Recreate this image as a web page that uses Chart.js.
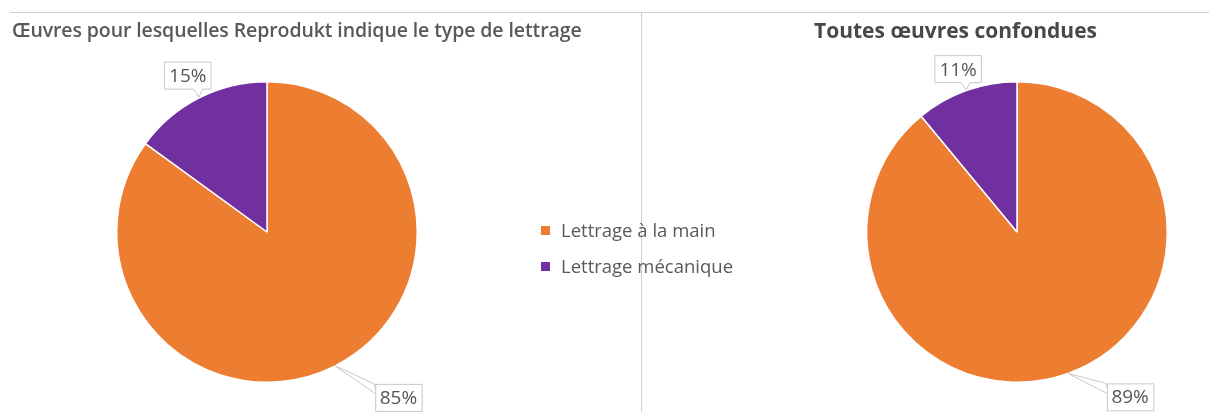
<!DOCTYPE html>
<html lang="fr">
<head>
<meta charset="utf-8">
<title>Type de lettrage</title>
<script src="https://cdn.jsdelivr.net/npm/chart.js@4.4.1/dist/chart.umd.min.js"></script>
<style>
  html, body { margin: 0; padding: 0; background: #ffffff; }
  #stage { position: relative; width: 1209px; height: 412px; overflow: hidden; font-family: "Open Sans", "Noto Sans", sans-serif; }
  .rule-h { position: absolute; left: 10px; top: 12px; width: 1199px; height: 0; border-top: 1.5px solid #d0d0d0; }
  .rule-v { position: absolute; left: 641px; top: 12px; width: 0; height: 400px; border-left: 1.5px solid #d0d0d0; }
  canvas { position: absolute; top: 0; }
  #pieLeft { left: 0; }
  #pieRight { left: 642px; }
  .title { position: absolute; color: #595959; white-space: nowrap; }
  #titleLeft { left: 12px; top: 16px; font-size: 19.5px; font-weight: 600; letter-spacing: -0.1px; }
  #titleRight { left: 672px; width: 567px; text-align: center; top: 16px; font-size: 21px; font-weight: 700; color: #484848; }
  #legend { position: absolute; left: 541px; top: 217px; font-size: 18.5px; color: #595959; }
  #legend div { height: 36px; line-height: 26px; white-space: nowrap; }
  #legend span.sw { display: inline-block; width: 9px; height: 9px; margin-right: 11px; vertical-align: 2px; }
</style>
</head>
<body>
<div id="stage">
  <div class="rule-h"></div>
  <div class="rule-v"></div>
  <canvas id="pieLeft" width="640" height="412"></canvas>
  <canvas id="pieRight" width="567" height="412"></canvas>
  <div class="title" id="titleLeft"></div>
  <div class="title" id="titleRight"></div>
  <div id="legend"></div>
</div>
<script>
// Categories and shares (%) for each pie
const categories = ['Lettrage à la main', 'Lettrage mécanique'];
const colors = ['#ED7D31', '#7030A0'];
const titleLeft = 'Œuvres pour lesquelles Reprodukt indique le type de lettrage';
const titleRight = 'Toutes œuvres confondues';
const valuesLeft = [85, 15];
const valuesRight = [89, 11];

document.getElementById('titleLeft').textContent = titleLeft;
document.getElementById('titleRight').textContent = titleRight;

// Legend shared by both pies
const legendBox = document.getElementById('legend');
categories.forEach((c, i) => {
  const row = document.createElement('div');
  const sw = document.createElement('span');
  sw.className = 'sw';
  sw.style.background = colors[i];
  row.appendChild(sw);
  row.appendChild(document.createTextNode(c));
  legendBox.appendChild(row);
});

// Callout labels: a boxed percentage tied to the outer edge of each slice
const calloutPlugin = {
  id: 'callouts',
  afterDatasetsDraw(chart, args, opts) {
    const ctx = chart.ctx;
    const meta = chart.getDatasetMeta(0);
    const data = chart.data.datasets[0].data;
    ctx.save();
    ctx.font = '500 19px "Open Sans", "Noto Sans", sans-serif';
    ctx.textAlign = 'center';
    ctx.textBaseline = 'middle';
    meta.data.forEach((arc, i) => {
      const p = arc.getProps(['x', 'y', 'startAngle', 'endAngle', 'outerRadius'], true);
      const mid = (p.startAngle + p.endAngle) / 2;
      const tx = p.x + Math.cos(mid) * p.outerRadius;
      const ty = p.y + Math.sin(mid) * p.outerRadius;
      const text = data[i] + '%';
      const w = ctx.measureText(text).width + 9;
      const h = 27;
      const o = opts.offsets[i];
      let bx, by;
      ctx.strokeStyle = '#c8c8c8';
      ctx.lineWidth = 1;
      ctx.fillStyle = '#ffffff';
      if (o.side === 'above') {
        const cx = tx + o.dx;
        bx = cx - w / 2;
        by = ty - o.gap - h;
        const bot = by + h;
        ctx.beginPath();
        ctx.moveTo(bx, by);
        ctx.lineTo(bx + w, by);
        ctx.lineTo(bx + w, bot);
        ctx.lineTo(tx + 4, bot);
        ctx.lineTo(tx, ty - 1);
        ctx.lineTo(tx - 5, bot);
        ctx.lineTo(bx, bot);
        ctx.closePath();
        ctx.fill();
        ctx.stroke();
      } else {
        bx = tx + o.dx;
        by = ty + o.dy;
        ctx.beginPath();
        ctx.moveTo(tx, ty);
        ctx.lineTo(bx - 1, by);
        ctx.lineTo(bx + 2, by + 11);
        ctx.closePath();
        ctx.fill();
        ctx.stroke();
        ctx.fillRect(bx, by, w, h);
        ctx.strokeRect(bx + 0.5, by + 0.5, w, h);
      }
      ctx.fillStyle = '#555555';
      ctx.fillText(text, bx + w / 2, by + h / 2 + 1);
    });
    ctx.restore();
  }
};

function makePie(id, values, padding, offsets) {
  return new Chart(document.getElementById(id), {
    type: 'pie',
    data: {
      labels: categories,
      datasets: [{
        data: values,
        backgroundColor: colors,
        borderColor: '#ffffff',
        borderWidth: 1.5
      }]
    },
    options: {
      responsive: false,
      animation: false,
      rotation: 0,
      layout: { padding: padding },
      plugins: {
        legend: { display: false },
        tooltip: { enabled: false },
        callouts: { offsets: offsets }
      }
    },
    plugins: [calloutPlugin]
  });
}

makePie('pieLeft', valuesLeft,
  { left: 116, right: 222, top: 81, bottom: 29 },
  [{ side: 'below', dx: 40, dy: 18 }, { side: 'above', dx: -11, gap: 9 }]);

makePie('pieRight', valuesRight,
  { left: 224, right: 41, top: 81, bottom: 29 },
  [{ side: 'below', dx: 39, dy: 10 }, { side: 'above', dx: -8, gap: 8 }]);
</script>
</body>
</html>
